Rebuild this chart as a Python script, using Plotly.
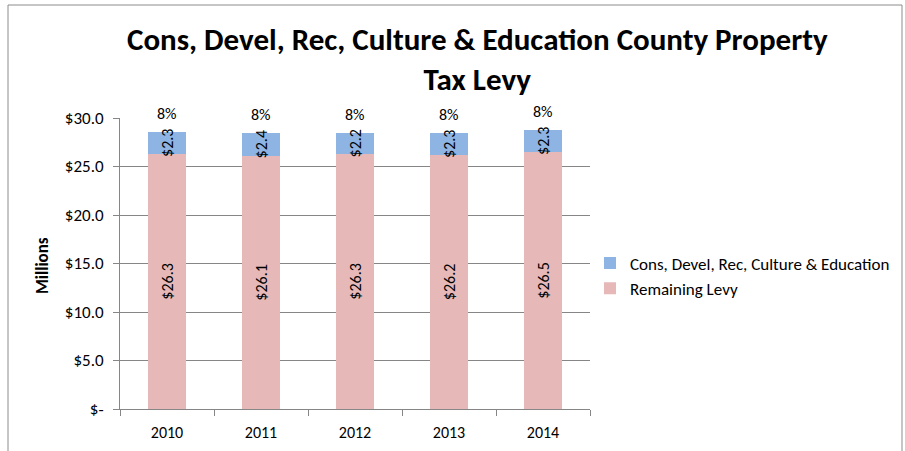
import plotly.graph_objects as go

years = ["2010", "2011", "2012", "2013", "2014"]
cons_devel = [2.3, 2.4, 2.2, 2.3, 2.3]
remaining = [26.3, 26.1, 26.3, 26.2, 26.5]
pct_labels = ["8%", "8%", "8%", "8%", "8%"]
y_tickvals = [0, 5, 10, 15, 20, 25, 30]
y_ticktext = ["$-", "$5.0", "$10.0", "$15.0", "$20.0", "$25.0", "$30.0"]
title_text = "Cons, Devel, Rec, Culture & Education County Property<br>Tax Levy"

totals = [a + b for a, b in zip(cons_devel, remaining)]

FONT = "Carlito, Calibri, 'Liberation Sans', sans-serif"
FS = 16

# plot area in pixels: left 120, right 590, top 118, bottom 409
L, R, T, B = 120, 315, 118, 42
PW, PH = 905 - L - R, 451 - T - B


def px(xpix):
    return (xpix - L) / PW


def py(ypix):
    return (451 - B - ypix) / PH


fig = go.Figure()
fig.add_trace(go.Bar(
    x=years, y=remaining, name="Remaining Levy", legendgroup="b",
    marker=dict(color="#E6B9B8", line=dict(width=0)),
    text=[f"${v:.1f}" for v in remaining], textposition="inside",
    textangle=-90, insidetextanchor="middle", constraintext="none",
    textfont=dict(size=FS, color="black", family=FONT),
))
fig.add_trace(go.Bar(
    x=years, y=cons_devel, name="Cons, Devel, Rec, Culture & Education", legendgroup="a",
    marker=dict(color="#8EB4E3", line=dict(width=0)),
    text=[f"${v:.1f}" for v in cons_devel], textposition="inside",
    textangle=-90, insidetextanchor="middle", constraintext="none",
    textfont=dict(size=FS, color="black", family=FONT),
))

# percentage labels above each stack (category index for x)
for i, (tot, p) in enumerate(zip(totals, pct_labels)):
    fig.add_annotation(xref="x", yref="y", x=i, y=tot, text=p, showarrow=False,
                       yanchor="bottom", yshift=7,
                       font=dict(size=FS, color="black", family=FONT))

# title
fig.add_annotation(xref="paper", yref="paper", x=px(477), y=py(59),
                   xanchor="center", yanchor="middle", showarrow=False,
                   text=f"<b>{title_text}</b>",
                   font=dict(size=31, color="black", family=FONT))

# y-axis title
fig.add_annotation(xref="paper", yref="paper", x=px(42), y=py(266),
                   xanchor="center", yanchor="middle", showarrow=False,
                   textangle=-90, text="<b>Millions</b>",
                   font=dict(size=17, color="black", family=FONT))

# outer chart border
fig.add_shape(type="rect", xref="paper", yref="paper",
              x0=px(8), x1=px(902), y0=py(470), y1=py(5),
              line=dict(color="#8c8c8c", width=1), layer="below")

fig.update_layout(
    barmode="stack",
    bargap=0.6,
    width=905, height=451,
    margin=dict(l=L, r=R, t=T, b=B, autoexpand=False),
    paper_bgcolor="white", plot_bgcolor="white",
    font=dict(family=FONT, size=FS, color="black"),
    legend=dict(x=px(590), y=py(276), xanchor="left", yanchor="middle",
                traceorder="reversed", font=dict(size=17, family=FONT),
                itemwidth=30, tracegroupgap=30),
    showlegend=True,
    xaxis=dict(type="category", showline=True, linecolor="#868686", ticks="outside",
               tickson="boundaries", ticklen=6, tickcolor="#868686",
               tickfont=dict(size=FS), automargin=False, range=[-0.5, 4.5],
               ticklabelstandoff=9),
    yaxis=dict(range=[0, 30], tickvals=y_tickvals, ticktext=y_ticktext,
               showgrid=True, gridcolor="#868686", gridwidth=1,
               showline=True, linecolor="#868686", ticks="outside",
               ticklen=6, tickcolor="#868686", tickfont=dict(size=17),
               zeroline=False, automargin=False, ticklabelstandoff=6),
)

fig.write_html("out.html", config={"displayModeBar": False},
               post_script="document.body.style.margin='0';")
